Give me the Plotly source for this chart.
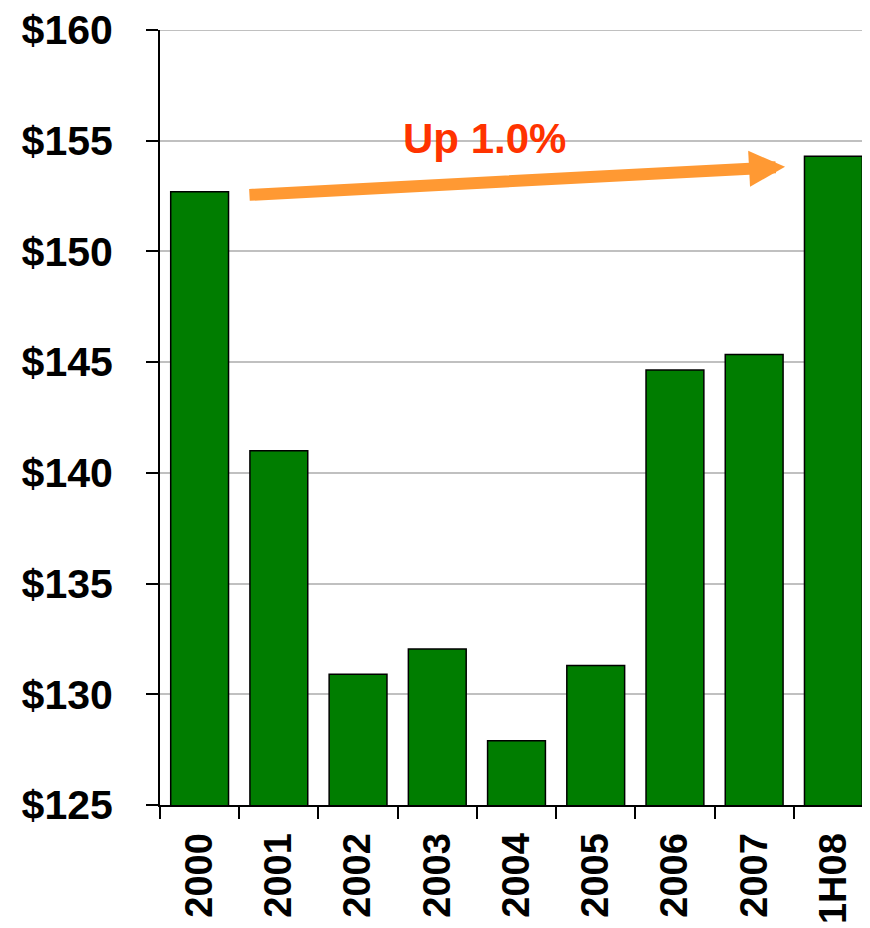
import plotly.graph_objects as go

categories = ["2000", "2001", "2002", "2003", "2004", "2005", "2006", "2007", "1H08"]
values = [152.7, 141.0, 130.9, 132.05, 127.9, 131.3, 144.65, 145.35, 154.3]
y_ticks = [125, 130, 135, 140, 145, 150, 155, 160]
y_tick_labels = ["$" + str(v) for v in y_ticks]
annotation_text = "Up 1.0%"

FONT = "Liberation Sans, Arial, sans-serif"

fig = go.Figure()
fig.add_trace(go.Bar(
    x=categories,
    y=values,
    marker=dict(color="#007D00", line=dict(color="black", width=1.5)),
    width=0.73,
    hoverinfo="skip",
))

# top gridline (plotly skips the grid line at the range edge)
fig.add_shape(
    type="line", xref="paper", yref="y", x0=0, x1=1,
    y0=max(y_ticks), y1=max(y_ticks),
    line=dict(color="#C0C0C0", width=2), layer="below",
)

# Arrow from the 2000 bar to the 1H08 bar
fig.add_annotation(
    x=7.39, y=153.82, ax=0.61, ay=152.55,
    xref="x", yref="y", axref="x", ayref="y",
    showarrow=True, arrowhead=2, arrowsize=0.6, arrowwidth=12,
    arrowcolor="#FF9933", text="",
)
fig.add_annotation(
    x=3.6, y=155.08, xref="x", yref="y",
    text=annotation_text, showarrow=False,
    font=dict(family=FONT, size=42, color="#FF3300", weight="bold"),
    xanchor="center", yanchor="middle",
)

fig.update_layout(
    width=870, height=928,
    margin=dict(l=152, r=5, t=22, b=131),
    paper_bgcolor="white", plot_bgcolor="white",
    showlegend=False,
    font=dict(family=FONT, color="black"),
)
fig.update_xaxes(
    type="category",
    range=[-0.5, 8.5],
    tickangle=-90,
    ticks="outside", ticklen=12, tickwidth=2, tickcolor="black",
    tickson="boundaries",
    showline=True, linecolor="black", linewidth=2,
    showgrid=False,
    tickfont=dict(family=FONT, size=38, color="black", weight="bold"),
    ticklabelstandoff=11,
    ticklabeloverflow="allow",
    automargin=False,
)
fig.update_yaxes(
    range=[125, 160],
    tickmode="array",
    tickvals=y_ticks,
    ticktext=y_tick_labels,
    ticks="outside", ticklen=12, tickwidth=2, tickcolor="black",
    showline=True, linecolor="black", linewidth=2,
    showgrid=True, gridcolor="#C0C0C0", gridwidth=2,
    zeroline=False,
    tickfont=dict(family=FONT, size=41, color="black", weight="bold"),
    ticklabelstandoff=25,
    ticklabeloverflow="allow",
    automargin=False,
)

fig.write_html("out.html")
